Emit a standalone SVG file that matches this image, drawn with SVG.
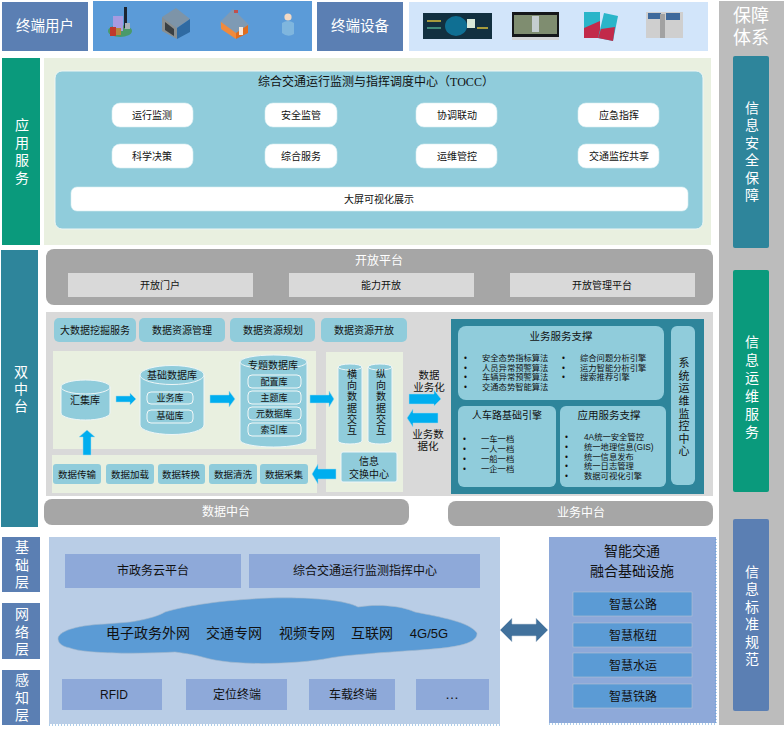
<svg xmlns="http://www.w3.org/2000/svg" width="784" height="729" viewBox="0 0 784 729">
<style>
text{font-family:"Liberation Sans","Noto Sans CJK SC",sans-serif;text-anchor:middle;dominant-baseline:central;fill:#111}
.w{fill:#fff}
.l{text-anchor:start;font-size:8.300px}
.v{writing-mode:vertical-rl;text-orientation:upright}
.se{font-family:"Liberation Serif","Noto Sans CJK SC",serif}
.s9{font-size:9px}.s95{font-size:9.500px}.s10{font-size:10px}.s105{font-size:10.500px}.s11{font-size:11px}.s12{font-size:12px}.s13{font-size:13px}.s14{font-size:14px}.s15{font-size:14.500px}.s18{font-size:18px}
.b{fill:#5b7fb3}.t{fill:#2e859b}.g{fill:#0a9a7c}
.lt{fill:#90ccdb}.gr{fill:#e9f0e0}.dg{fill:#a6a6a6}
.wb{fill:#fff;stroke:#d8eef2;stroke-width:.6}
.cyl{fill:#90ccdb;stroke:#eef6f7;stroke-width:1}
.inn{fill:#90ccdb;stroke:#f2f8f8;stroke-width:1}
.pb{fill:#8ea9d9}.cb{fill:#5b9bd5;stroke:#b5c4d4;stroke-width:.6}
.dots{fill:none;stroke:#5b9bd5;stroke-width:1;stroke-dasharray:1 2}
.arr{fill:#00aeef;stroke:#a6d8ea;stroke-width:.5}
</style>

<rect x="719" y="1" width="65" height="724" fill="#bcbcbc"/>

<g id="terminal-users">
<rect x="2" y="2" width="86" height="49" class="b"/>
<text x="45" y="26" class="w s15">终端用户</text>
</g>
<g id="user-icons">
<rect x="93" y="1" width="219" height="50" fill="#5b9bd8"/>
<ellipse cx="120" cy="31" rx="12" ry="6" fill="#4a9a6a"/>
<rect x="113" y="16" width="10" height="15" fill="#a79be0"/>
<rect x="124" y="7" width="3" height="21" fill="#1c2430"/>
<rect x="110" y="27" width="6" height="9" fill="#c0392b"/>
<rect x="116" y="28" width="5" height="7" fill="#b5873f"/>
<rect x="125" y="23" width="5" height="6" fill="#a8b0b8"/>
<path d="M162 17 176 8 190 19 177 28Z" fill="#7d94a8"/>
<path d="M177 28 190 19 190 32 177 39Z" fill="#2f6aa2"/>
<path d="M162 17 177 28 177 39 162 31Z" fill="#8a8f90"/>
<path d="M165 22 174 29 174 36 165 30Z" fill="#3a3f42"/>
<path d="M220 22 233 9 249 25 236 38 221 28Z" fill="#7e9ab4"/>
<path d="M221 22 236 33 236 39 221 29Z" fill="#f08a3c"/>
<path d="M236 33 248 25 248 33 236 39Z" fill="#e06d1e"/>
<rect x="239" y="27" width="4" height="8" fill="#f6e7da"/>
<rect x="234" y="10" width="4" height="3" fill="#c0504d"/>
<circle cx="288" cy="17" r="3.600" fill="#f2d9c4"/>
<path d="M282 23Q288 19 294 23V34Q288 38 282 33Z" fill="#7fb6de"/>
</g>
<g id="terminal-devices">
<rect x="317" y="2" width="86" height="49" class="b"/>
<text x="360" y="26" class="w s15">终端设备</text>
</g>
<g id="device-icons">
<rect x="409" y="2" width="299" height="49" fill="#d2e5fa"/>
<rect x="423" y="13" width="69" height="26" fill="#123040"/>
<ellipse cx="456" cy="26" rx="11" ry="10" fill="#0f6f93"/>
<rect x="467" y="19" width="8" height="9" fill="#d8e8d8"/>
<rect x="427" y="20" width="14" height="2" fill="#a69a3c"/>
<rect x="427" y="27" width="14" height="2" fill="#3f8a7a"/>
<rect x="477" y="27" width="11" height="2" fill="#a69a3c"/>
<rect x="512" y="12" width="47" height="25" fill="#15171a"/>
<rect x="514" y="15" width="43" height="19" fill="#7f8d70"/>
<rect x="532" y="16" width="7" height="16" fill="#c4cdd0"/>
<rect x="512" y="37" width="47" height="3" fill="#d2d4d6"/>
<path d="M584 12h16v26h-16z" fill="#2ab5c9"/>
<path d="M584 28 600 21V38H584Z" fill="#c22a4a"/>
<path d="M604 13 618 16 613 41 598 38Z" fill="#2ab5c9"/>
<path d="M601 29 615 27 613 41 598 38Z" fill="#c22a4a"/>
<rect x="646" y="12" width="37" height="26" fill="#cfcfcf"/>
<rect x="648" y="13" width="13" height="6" fill="#3f6a9c"/>
<rect x="666" y="13" width="14" height="7" fill="#3f6a9c"/>
<rect x="660" y="14" width="5" height="24" fill="#a2a2a2"/>
</g>

<g id="security-system">
<text x="751" y="16" class="w s18">保障</text>
<text x="751" y="38" class="w s18">体系</text>
</g>
<g id="info-security">
<rect x="733" y="56" width="36" height="192" rx="2" class="t"/>
<text x="751" y="153" class="w s14 v" letter-spacing="3.500">信息安全保障</text>
</g>
<g id="info-ops">
<rect x="733" y="270" width="36" height="222" rx="2" class="g"/>
<text x="751" y="389" class="w s14 v" letter-spacing="4">信息运维服务</text>
</g>
<g id="info-standard">
<rect x="733" y="519" width="36" height="192" rx="2" class="b"/>
<text x="751" y="617" class="w s14 v" letter-spacing="3.500">信息标准规范</text>
</g>

<g id="app-services">
<rect x="2" y="58" width="38" height="187" class="g"/>
<text x="21" y="153" class="w s14 v" letter-spacing="3.700">应用服务</text>
</g>
<g id="tocc">
<rect x="44" y="58" width="667" height="187" class="gr"/>
<rect x="55" y="71" width="648" height="158" rx="7" class="lt" stroke="#eef6f4"/>
<text x="376" y="82" class="s12 se">综合交通运行监测与指挥调度中心（TOCC）</text>
</g>
<g id="tocc-1"><rect x="112" y="103" width="81" height="24" rx="8" class="wb"/><text x="152" y="115" class="s10">运行监测</text></g>
<g id="tocc-2"><rect x="265" y="103" width="72" height="24" rx="8" class="wb"/><text x="301" y="115" class="s10">安全监管</text></g>
<g id="tocc-3"><rect x="416" y="103" width="81" height="24" rx="8" class="wb"/><text x="457" y="115" class="s10">协调联动</text></g>
<g id="tocc-4"><rect x="578" y="103" width="81" height="24" rx="8" class="wb"/><text x="619" y="115" class="s10">应急指挥</text></g>
<g id="tocc-5"><rect x="112" y="144" width="81" height="24" rx="8" class="wb"/><text x="152" y="156" class="s10">科学决策</text></g>
<g id="tocc-6"><rect x="265" y="144" width="72" height="24" rx="8" class="wb"/><text x="301" y="156" class="s10">综合服务</text></g>
<g id="tocc-7"><rect x="416" y="144" width="81" height="24" rx="8" class="wb"/><text x="457" y="156" class="s10">运维管控</text></g>
<g id="tocc-8"><rect x="578" y="144" width="81" height="24" rx="8" class="wb"/><text x="619" y="156" class="s10">交通监控共享</text></g>
<g id="tocc-9"><rect x="71" y="187" width="617" height="24" rx="6" class="wb"/><text x="379" y="199" class="s10">大屏可视化展示</text></g>

<g id="dual-platform">
<rect x="1" y="250" width="37" height="277" class="t"/>
<text x="20" y="390" class="w s14 v" letter-spacing="3">双中台</text>
</g>
<g id="open-platform">
<rect x="46" y="249" width="667" height="56" rx="8" class="dg"/>
<text x="379" y="261" class="w s12">开放平台</text>
<rect x="68" y="273" width="185" height="24" fill="#d9d9d9"/><text x="160" y="285" class="s10">开放门户</text>
<rect x="289" y="273" width="185" height="24" fill="#d9d9d9"/><text x="381" y="285" class="s10">能力开放</text>
<rect x="510" y="273" width="185" height="24" fill="#d9d9d9"/><text x="602" y="285" class="s10">开放管理平台</text>
</g>

<rect x="46" y="312" width="667" height="184" fill="#d9d9d9"/>
<g id="svc-1"><rect x="54" y="318" width="82" height="24" rx="5" class="lt"/><text x="95" y="330" class="s10">大数据挖掘服务</text></g>
<g id="svc-2"><rect x="139" y="318" width="86" height="24" rx="5" class="lt"/><text x="182" y="330" class="s10">数据资源管理</text></g>
<g id="svc-3"><rect x="230" y="318" width="85" height="24" rx="5" class="lt"/><text x="273" y="330" class="s10">数据资源规划</text></g>
<g id="svc-4"><rect x="321" y="318" width="86" height="24" rx="5" class="lt"/><text x="364" y="330" class="s10">数据资源开放</text></g>

<rect x="53" y="351" width="263" height="98" class="gr"/>
<rect x="52" y="455" width="265" height="38" class="gr"/>
<rect x="326" y="352" width="77" height="140" class="gr"/>

<g id="db-collect">
<path d="M61 387V413A24.500 7 0 0 0 110 413V387Z" class="cyl"/>
<ellipse cx="85.500" cy="387" rx="24.500" ry="7" class="cyl"/>
<text x="85" y="400" class="s10">汇集库</text>
</g>
<g id="db-base">
<path d="M140 375V425A32 9.500 0 0 0 204 425V375Z" class="cyl"/>
<ellipse cx="172" cy="375" rx="32" ry="9.500" class="cyl"/>
<text x="172" y="375" class="s10">基础数据库</text>
<rect x="147" y="392" width="46" height="12" rx="4" class="inn"/><text x="170" y="398" class="s9">业务库</text>
<rect x="147" y="410" width="46" height="13" rx="4" class="inn"/><text x="170" y="416" class="s9">基础库</text>
</g>
<g id="db-topic">
<path d="M240 362V440A33.500 7 0 0 0 307 440V362Z" class="cyl"/>
<ellipse cx="273.500" cy="362" rx="33.500" ry="7" class="cyl"/>
<text x="273" y="365" class="s10">专题数据库</text>
<rect x="248" y="375" width="53" height="13" rx="4" class="inn"/><text x="274" y="382" class="s9">配置库</text>
<rect x="248" y="391" width="53" height="13" rx="4" class="inn"/><text x="274" y="398" class="s9">主题库</text>
<rect x="248" y="407" width="53" height="13" rx="4" class="inn"/><text x="274" y="414" class="s9">元数据库</text>
<rect x="248" y="423" width="53" height="13" rx="4" class="inn"/><text x="274" y="430" class="s9">索引库</text>
</g>
<g id="etl-1"><rect x="53" y="464" width="48" height="20" rx="3" class="lt"/><text x="77" y="474" class="s95">数据传输</text></g>
<g id="etl-2"><rect x="106" y="464" width="48" height="20" rx="3" class="lt"/><text x="130" y="474" class="s95">数据加载</text></g>
<g id="etl-3"><rect x="158" y="464" width="47" height="20" rx="3" class="lt"/><text x="181" y="474" class="s95">数据转换</text></g>
<g id="etl-4"><rect x="209" y="464" width="48" height="20" rx="3" class="lt"/><text x="233" y="474" class="s95">数据清洗</text></g>
<g id="etl-5"><rect x="260" y="464" width="48" height="20" rx="3" class="lt"/><text x="284" y="474" class="s95">数据采集</text></g>

<g id="cross-exchange">
<path d="M338 367V441A12 3 0 0 0 362 441V367Z" class="cyl"/>
<ellipse cx="350" cy="367" rx="12" ry="3" class="cyl"/>
<text x="351" y="403" class="s10 v" letter-spacing="1.300">横向数据交互</text>
</g>
<g id="vert-exchange">
<path d="M368 367V441A12 3 0 0 0 392 441V367Z" class="cyl"/>
<ellipse cx="380" cy="367" rx="12" ry="3" class="cyl"/>
<text x="380" y="403" class="s10 v" letter-spacing="1.300">纵向数据交互</text>
</g>
<g id="exchange-center">
<rect x="341" y="452" width="56" height="30" rx="2" class="cyl"/>
<text x="369" y="461" class="s10">信息</text><text x="369" y="474" class="s10">交换中心</text>
</g>

<g id="connectors">
<path class="arr" d="M116 396H130V393L136 399 130 405V402H116Z"/>
<path class="arr" d="M210 395H229V391L235 399 229 407V403H210Z"/>
<path class="arr" d="M310 395H329V391L334 399 329 407V403H310Z"/>
<path class="arr" d="M83 455V437H79L87 430 95 437H91V455Z"/>
<path class="arr" d="M336 469V479H318V484L312 474 318 464V469Z"/>
<path class="arr" d="M409 394H434V390L441 399 434 406V404H409Z"/>
<path class="arr" d="M438 413H413V409L407 418 413 427V423H438Z"/>
<path d="M500 630 512 618V624H536V618L548 630 536 642V636H512V642Z" fill="#41719c" stroke="#c9d3de" stroke-width=".6"/>
</g>

<g id="label-biz">
<text x="429" y="375" class="s105">数据</text><text x="429" y="387" class="s105">业务化</text>
</g>
<g id="label-data">
<text x="428" y="434" class="s105">业务数</text><text x="428" y="446" class="s105">据化</text>
</g>

<g id="business-panel">
<rect x="451" y="319" width="253" height="175" class="t"/>
</g>
<g id="biz-support">
<rect x="458" y="326" width="206" height="74" rx="8" class="lt"/>
<text x="561" y="336" class="s105">业务服务支撑</text>
<text x="464" y="358" class="l">•</text><text x="464" y="368" class="l">•</text><text x="464" y="377" class="l">•</text><text x="464" y="387" class="l">•</text>
<text x="482" y="358" class="l">安全态势指标算法</text><text x="482" y="368" class="l">人员异常预警算法</text><text x="482" y="377" class="l">车辆异常预警算法</text><text x="482" y="387" class="l">交通态势智能算法</text>
<text x="562" y="358" class="l">•</text><text x="562" y="368" class="l">•</text><text x="562" y="377" class="l">•</text>
<text x="580" y="358" class="l">综合问题分析引擎</text><text x="580" y="368" class="l">运力智能分析引擎</text><text x="580" y="377" class="l">搜索推荐引擎</text>
</g>
<g id="engine">
<rect x="458" y="406" width="98" height="81" rx="6" class="lt"/>
<text x="507" y="415" class="s10">人车路基础引擎</text>
<text x="463" y="439" class="l">•</text><text x="463" y="449" class="l">•</text><text x="463" y="459" class="l">•</text><text x="463" y="469" class="l">•</text>
<text x="481" y="439" class="l">一车一档</text><text x="481" y="449" class="l">一人一档</text><text x="481" y="459" class="l">一船一档</text><text x="481" y="469" class="l">一企一档</text>
</g>
<g id="app-support">
<rect x="560" y="406" width="106" height="81" rx="6" class="lt"/>
<text x="609" y="415" class="s105">应用服务支撑</text>
<text x="565" y="437" class="l">•</text><text x="565" y="447" class="l">•</text><text x="565" y="457" class="l">•</text><text x="565" y="466" class="l">•</text><text x="565" y="476" class="l">•</text>
<text x="584" y="437" class="l">4A统一安全管控</text><text x="584" y="447" class="l">统一地理信息(GIS)</text><text x="584" y="457" class="l">统一信息发布</text><text x="584" y="466" class="l">统一日志管理</text><text x="584" y="476" class="l">数据可视化引擎</text>
</g>
<g id="ops-center">
<rect x="671" y="326" width="24" height="159" rx="6" class="lt"/>
<text x="683" y="408" class="s11 v" letter-spacing="1.600">系统运维监控中心</text>
</g>

<g id="data-midplatform"><rect x="44" y="499" width="365" height="26" rx="8" class="dg"/><text x="226" y="512" class="w s12">数据中台</text></g>
<g id="biz-midplatform"><rect x="448" y="501" width="265" height="25" rx="8" class="dg"/><text x="581" y="513" class="w s12">业务中台</text></g>

<g id="layer-base"><rect x="2" y="537" width="38" height="55" class="b"/><text x="21" y="566" class="w s14 v" letter-spacing="3.500">基础层</text></g>
<g id="layer-net"><rect x="2" y="603" width="38" height="56" class="b"/><text x="21" y="633" class="w s14 v" letter-spacing="3.500">网络层</text></g>
<g id="layer-sense"><rect x="2" y="670" width="38" height="55" class="b"/><text x="21" y="699" class="w s14 v" letter-spacing="3.500">感知层</text></g>

<g id="infra-panel">
<rect x="49" y="537" width="451" height="187" fill="#b9cde6"/>
<path class="dots" d="M49 725H500"/>
</g>
<g id="cloud-platform"><rect x="65" y="554" width="176" height="34" class="pb"/><text x="153" y="571" class="s12">市政务云平台</text></g>
<g id="tocc-center"><rect x="249" y="554" width="231" height="34" class="pb"/><text x="365" y="571" class="s12">综合交通运行监测指挥中心</text></g>
<g id="network-cloud">
<path d="M58 638C60 630 80 625 105 624L130 622C150 619 160 615 165 612 185 606 220 600 270 598 310 597 345 600 358 607 375 604 400 605 415 612 440 617 470 622 477 633 478 645 450 648 420 650 390 652 345 655 330 658 300 664 240 666 210 659 195 655 190 654 175 652 140 654 85 654 70 648 60 646 58 642 58 638Z" fill="#5b9bd5" stroke="#a5b8cc" stroke-width=".6"/>
<text x="148" y="633" class="s14">电子政务外网</text>
<text x="234" y="633" class="s14">交通专网</text>
<text x="307" y="633" class="s14">视频专网</text>
<text x="372" y="633" class="s14">互联网</text>
<text x="429" y="633" class="s13">4G/5G</text>
</g>
<g id="sense-1"><rect x="62" y="679" width="100" height="31" class="pb"/><text x="114" y="695" class="s12">RFID</text></g>
<g id="sense-2"><rect x="186" y="679" width="101" height="31" class="pb"/><text x="237" y="695" class="s12">定位终端</text></g>
<g id="sense-3"><rect x="309" y="679" width="86" height="31" class="pb"/><text x="353" y="695" class="s12">车载终端</text></g>
<g id="sense-4"><rect x="416" y="679" width="73" height="31" class="pb"/><text x="452" y="694" class="s14">…</text></g>

<g id="smart-infra">
<rect x="549" y="537" width="167" height="186" class="pb"/>
<path class="dots" d="M549 724H716V537"/>
<text x="632" y="551" class="s14">智能交通</text>
<text x="632" y="571" class="s14">融合基础设施</text>
</g>
<g id="smart-1"><rect x="573" y="592" width="119" height="24" class="cb"/><text x="633" y="605" class="s12">智慧公路</text></g>
<g id="smart-2"><rect x="573" y="623" width="119" height="24" class="cb"/><text x="633" y="636" class="s12">智慧枢纽</text></g>
<g id="smart-3"><rect x="573" y="653" width="119" height="24" class="cb"/><text x="633" y="666" class="s12">智慧水运</text></g>
<g id="smart-4"><rect x="573" y="684" width="119" height="24" class="cb"/><text x="633" y="697" class="s12">智慧铁路</text></g>
</svg>
